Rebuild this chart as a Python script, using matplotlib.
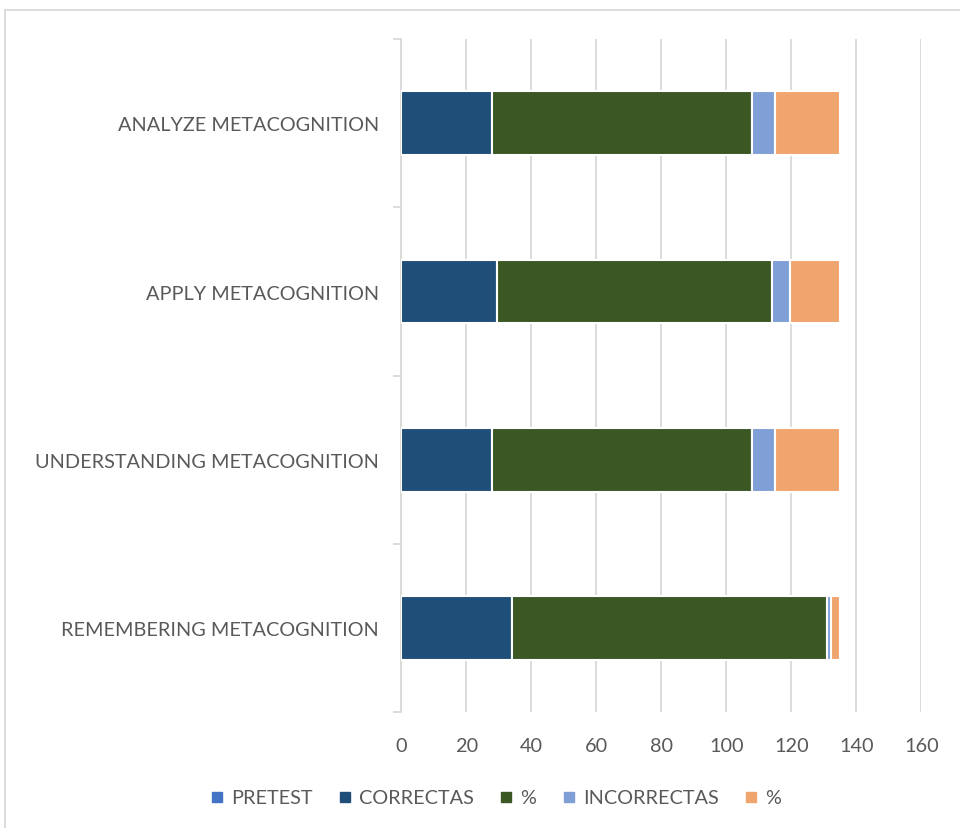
import matplotlib.pyplot as plt
import numpy as np
from matplotlib.lines import Line2D
from matplotlib.patches import Rectangle

plt.rcParams['font.family'] = ['Lato', 'DejaVu Sans']

# data (bottom to top)
categories = ['REMEMBERING METACOGNITION', 'UNDERSTANDING METACOGNITION',
              'APPLY METACOGNITION', 'ANALYZE METACOGNITION']
pretest = [0, 0, 0, 0]
correctas = [34, 28, 29.6, 28]
pct_correct = [97.1, 80, 84.6, 80]
incorrectas = [1, 7, 5.4, 7]
pct_incorrect = [2.9, 20, 15.4, 20]

series = [('PRETEST', pretest, '#4472C4'),
          ('CORRECTAS', correctas, '#1F4E79'),
          ('%', pct_correct, '#3A5724'),
          ('INCORRECTAS', incorrectas, '#7F9FD6'),
          ('%', pct_incorrect, '#F1A56E')]

text_col = '#595959'
grid_col = '#D9D9D9'

fig = plt.figure(figsize=(9.6, 8.29), dpi=100)
ax = fig.add_axes([0.418, 0.1396, 0.5417, 0.8121])

y = np.arange(len(categories))
left = np.zeros(len(categories))
for name, vals, col in series:
    vals = np.array(vals, dtype=float)
    ax.barh(y, vals, left=left, height=0.38, color=col,
            edgecolor='white', linewidth=1.5, zorder=3)
    left += vals

ax.set_xlim(0, 160)
ax.set_ylim(-0.5, len(categories) - 0.5)
ax.set_xticks(np.arange(0, 161, 20))
ax.set_yticks(y)
ax.set_yticklabels(categories)
ax.set_yticks(np.arange(-0.5, len(categories), 1), minor=True)

ax.grid(axis='x', color=grid_col, linewidth=1.3, zorder=0)
for s in ['top', 'right', 'bottom']:
    ax.spines[s].set_visible(False)
ax.spines['left'].set_color(grid_col)
ax.spines['left'].set_linewidth(1.3)

ax.tick_params(axis='x', length=0, pad=18, labelsize=14.3, labelcolor=text_col)
ax.tick_params(axis='y', which='major', length=0, pad=16, labelsize=14.3,
               labelcolor=text_col)
ax.tick_params(axis='y', which='minor', length=6, width=1.3, color=grid_col)

handles = [Line2D([], [], marker='s', linestyle='', markersize=7,
                  markerfacecolor=col, markeredgecolor=col)
           for name, vals, col in series]
fig.legend(handles, [s[0] for s in series], loc='center',
           bbox_to_anchor=(496 / 960, 1 - 799 / 829), ncol=5, frameon=False,
           fontsize=14.3, labelcolor=text_col, handlelength=0.6,
           handletextpad=0.4, columnspacing=1.35)

# chart border
fig.patches.append(Rectangle((5 / 960, -0.01), 1.0, 1 - 11 / 829 + 0.01,
                             transform=fig.transFigure, fill=False,
                             edgecolor=grid_col, linewidth=1.3))

fig.savefig('out.png', dpi=100)
